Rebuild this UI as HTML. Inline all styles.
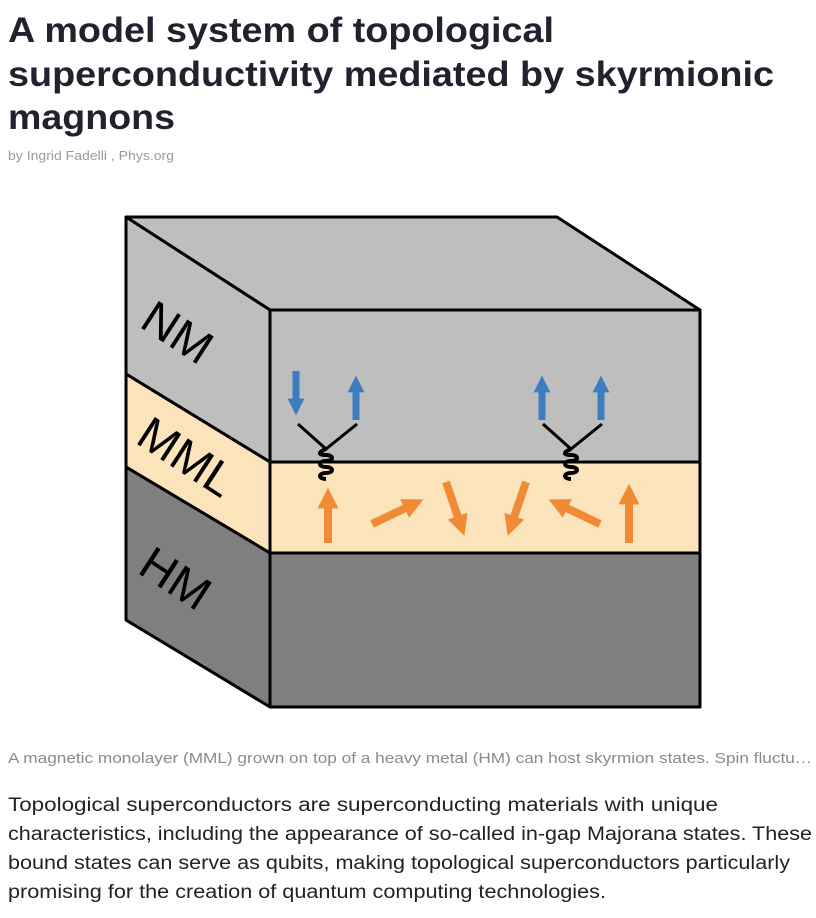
<!DOCTYPE html>
<html><head><meta charset="utf-8"><style>
html,body{margin:0;padding:0;background:#fff;width:816px;height:918px;overflow:hidden}
svg{display:block}
text{font-family:"Liberation Sans",sans-serif}
</style></head><body>
<svg width="816" height="918" viewBox="0 0 816 918" xmlns="http://www.w3.org/2000/svg">
<g fill="#22222e" font-weight="bold" font-size="35">
<text x="8" y="42" textLength="546" lengthAdjust="spacingAndGlyphs">A model system of topological</text>
<text x="8" y="86" textLength="766" lengthAdjust="spacingAndGlyphs">superconductivity mediated by skyrmionic</text>
<text x="8" y="129" textLength="167" lengthAdjust="spacingAndGlyphs">magnons</text>
</g>
<text x="8" y="160" font-size="13" fill="#999" textLength="166" lengthAdjust="spacingAndGlyphs">by Ingrid Fadelli , Phys.org</text>

<g stroke="#000" stroke-width="3" stroke-linejoin="round">
<polygon points="126,217 557,217 700,310 270,310" fill="#bebebe"/>
<polygon points="126,217 270,310 270,462 126,374" fill="#bebebe"/>
<polygon points="126,374 270,462 270,553 126,467" fill="#fbe3bb"/>
<polygon points="126,467 270,553 270,707 126,620" fill="#7f7f7f"/>
<rect x="270" y="310" width="430" height="152" fill="#bebebe"/>
<rect x="270" y="462" width="430" height="91" fill="#fbe3bb"/>
<rect x="270" y="553" width="430" height="154" fill="#7f7f7f"/>
</g>
<g font-size="47" fill="#000">
<text transform="translate(138,326) rotate(33)">NM</text>
<text transform="translate(134,442) rotate(33)">MML</text>
<text transform="translate(136,572) rotate(33)">HM</text>
</g>
<defs>
<marker id="hb" viewBox="0 0 10 10" refX="5" refY="5" markerWidth="2.4" markerHeight="2.4" orient="auto"><path d="M0,0 L10,5 L0,10 z" fill="#3c7dbf"/></marker>
<marker id="ho" viewBox="0 0 10 10" refX="5" refY="5" markerWidth="2.6" markerHeight="2.6" orient="auto"><path d="M0,0 L10,5 L0,10 z" fill="#ef8b35"/></marker>
</defs>
<g stroke="#3c7dbf" stroke-width="7" fill="none">
<line x1="296" y1="371" x2="296" y2="407" marker-end="url(#hb)"/>
<line x1="356" y1="420" x2="356" y2="384" marker-end="url(#hb)"/>
<line x1="542" y1="420" x2="542" y2="384" marker-end="url(#hb)"/>
<line x1="601" y1="420" x2="601" y2="384" marker-end="url(#hb)"/>
</g>
<g stroke="#000" stroke-width="3" fill="none">
<polyline points="298,424 326,449 357,424"/>
<polyline points="543,424 571,449 602,424"/>
</g>
<g stroke="#000" stroke-width="4" fill="none">
<path d="M326,449 c-8,3 -8,6 0,6 c8,0 8,6 0,6 c-8,0 -8,6 0,6 c8,0 8,6 0,6 c-8,0 -8,6 0,6"/>
<path d="M571,449 c-8,3 -8,6 0,6 c8,0 8,6 0,6 c-8,0 -8,6 0,6 c8,0 8,6 0,6 c-8,0 -8,6 0,6"/>
</g>
<g stroke="#ef8b35" stroke-width="8" fill="none">
<line x1="328" y1="543" x2="328" y2="498" marker-end="url(#ho)"/>
<line x1="372" y1="524" x2="414" y2="504" marker-end="url(#ho)"/>
<line x1="446" y1="482" x2="461" y2="526" marker-end="url(#ho)"/>
<line x1="526" y1="482" x2="511" y2="526" marker-end="url(#ho)"/>
<line x1="600" y1="524" x2="558" y2="504" marker-end="url(#ho)"/>
<line x1="629" y1="543" x2="629" y2="494" marker-end="url(#ho)"/>
</g>

<text x="8" y="763" font-size="15" fill="#8a8a8a" textLength="804" lengthAdjust="spacingAndGlyphs">A magnetic monolayer (MML) grown on top of a heavy metal (HM) can host skyrmion states. Spin fluctu…</text>
<g font-size="19" fill="#222">
<text x="8" y="811" textLength="710" lengthAdjust="spacingAndGlyphs">Topological superconductors are superconducting materials with unique</text>
<text x="8" y="840" textLength="804" lengthAdjust="spacingAndGlyphs">characteristics, including the appearance of so-called in-gap Majorana states. These</text>
<text x="8" y="869" textLength="782" lengthAdjust="spacingAndGlyphs">bound states can serve as qubits, making topological superconductors particularly</text>
<text x="8" y="898" textLength="598" lengthAdjust="spacingAndGlyphs">promising for the creation of quantum computing technologies.</text>
</g>
</svg>
</body></html>
